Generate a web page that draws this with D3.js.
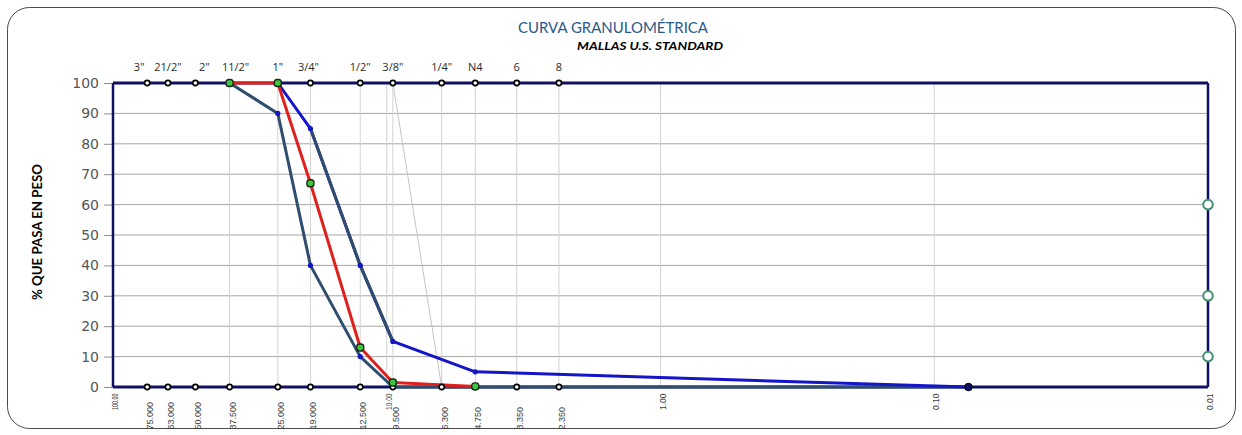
<!DOCTYPE html>
<html>
<head>
<meta charset="utf-8">
<script src="https://cdn.jsdelivr.net/npm/d3@7"></script>
<style>
  html, body { margin: 0; padding: 0; background: #ffffff; }
  svg { display: block; }
</style>
</head>
<body>
<svg id="chart" width="1242" height="435"></svg>
<script>
// Sieve openings (mm), their U.S. Standard names and printed opening labels
const sieveSizes  = [75, 63, 50, 37.5, 25, 19, 12.5, 9.5, 6.3, 4.75, 3.35, 2.35];
const sieveNames  = ['3"', '21/2"', '2"', '11/2"', '1"', '3/4"', '1/2"', '3/8"', '1/4"', 'N4', '6', '8'];
const sieveLabels = ['75.000', '63.000', '50.000', '37.500', '25.000', '19.000', '12.500', '9.500', '6.300', '4.750', '3.350', '2.350'];

// Decade gridlines of the log axis
const decadeTicks  = [100, 10, 1, 0.1, 0.01];
const decadeLabels = ['100.00', '10.00', '1.00', '0.10', '0.01'];

// Percent-passing axis ticks
const yTicks = [0, 10, 20, 30, 40, 50, 60, 70, 80, 90, 100];

// Sample gradation (% passing)
const sampleSizes  = [37.5, 25, 19, 12.5, 9.5, 4.75];
const sampleValues = [100, 100, 67, 13, 1.5, 0.2];

// Specification band: lower limit
const lowerSizes  = [37.5, 25, 19, 12.5, 9.5, 0.075];
const lowerValues = [100, 90, 40, 10, 0, 0];

// Specification band: upper limit
const upperSizes  = [25, 19, 12.5, 9.5, 4.75, 0.075];
const upperValues = [100, 85, 40, 15, 5, 0];

// Thin guide line
const guideSizes  = [9.5, 6.3];
const guideValues = [100, 0];

// Markers on the right edge (0.01 mm)
const edgeSizes  = [0.01, 0.01, 0.01];
const edgeValues = [60, 30, 10];

// End point at the #200 opening
const finesSizes  = [0.075];
const finesValues = [0];

// Horizontal nudges (px) for the crowded sieve names
const nameNudge = [-8, 0, 9, 6, 0, -2, 0, 0, 0, 0, 0, 0];

const svg = d3.select('#chart');
const plotL = 113, plotR = 1208, plotT = 83, plotB = 387;

const x = d3.scaleLog().domain([100, 0.01]).range([plotL, plotR]);
const y = d3.scaleLinear().domain([0, 100]).range([plotB, plotT]);

const NAVY = '#101064', SLATE = '#2f4e6e', BLUE = '#1414c8', RED = '#e0201c';

const zip = (s, v) => s.map((d, i) => [d, v[i]]);
const line = d3.line().x(d => x(d[0])).y(d => y(d[1]));

// Outer chart frame
svg.append('rect')
  .attr('x', 7.5).attr('y', 7.5).attr('width', 1228).attr('height', 421)
  .attr('rx', 22).attr('ry', 22)
  .attr('fill', '#fff').attr('stroke', '#4a4a4a').attr('stroke-width', 1);

// Horizontal gridlines
svg.append('g').selectAll('line').data(yTicks.filter(v => v > 0 && v < 100)).join('line')
  .attr('x1', plotL).attr('x2', plotR)
  .attr('y1', d => y(d)).attr('y2', d => y(d))
  .attr('stroke', '#a6a6a6').attr('stroke-width', 1);

// Vertical gridlines at decades and sieve openings (finer than 50 mm)
const vLines = decadeTicks.slice(1, 4).concat(sieveSizes.filter(s => s < 50));
svg.append('g').selectAll('line').data(vLines).join('line')
  .attr('x1', d => x(d)).attr('x2', d => x(d))
  .attr('y1', plotT).attr('y2', plotB)
  .attr('stroke', '#d2d2d2').attr('stroke-width', 1);

// Y axis ticks and labels
const yAxis = svg.append('g')
  .attr('transform', `translate(${plotL},0)`)
  .call(d3.axisLeft(y).tickValues(yTicks).tickSize(9).tickPadding(5).tickFormat(d3.format('d')));
yAxis.select('.domain').remove();
yAxis.selectAll('.tick line').attr('stroke', '#8c8c8c');
yAxis.selectAll('.tick text')
  .attr('fill', '#555')
  .style('font-family', '"DejaVu Sans", sans-serif')
  .style('font-size', '14px');

// Plot border
svg.append('g').selectAll('line').data([
  [plotL, plotT, plotR, plotT, 3], [plotL, plotB, plotR, plotB, 3],
  [plotL, plotT, plotL, plotB, 2.5], [plotR, plotT, plotR, plotB, 2.5]
]).join('line')
  .attr('x1', d => d[0]).attr('y1', d => d[1]).attr('x2', d => d[2]).attr('y2', d => d[3])
  .attr('stroke', NAVY).attr('stroke-width', d => d[4]);

// Guide line
svg.append('path').datum(zip(guideSizes, guideValues)).attr('d', line)
  .attr('fill', 'none').attr('stroke', '#c4c4c4').attr('stroke-width', 1);

// Lower limit
svg.append('path').datum(zip(lowerSizes, lowerValues)).attr('d', line)
  .attr('fill', 'none').attr('stroke', SLATE).attr('stroke-width', 3).attr('stroke-linejoin', 'round');

// Upper limit (blue), with its middle stretch in slate
const upper = zip(upperSizes, upperValues);
svg.append('path').datum(upper).attr('d', line)
  .attr('fill', 'none').attr('stroke', BLUE).attr('stroke-width', 3).attr('stroke-linejoin', 'round');
svg.append('path').datum(upper.slice(1, 4)).attr('d', line)
  .attr('fill', 'none').attr('stroke', SLATE).attr('stroke-width', 3).attr('stroke-linejoin', 'round');

// Sample curve
svg.append('path').datum(zip(sampleSizes, sampleValues)).attr('d', line)
  .attr('fill', 'none').attr('stroke', RED).attr('stroke-width', 3).attr('stroke-linejoin', 'round');

// Sieve markers on the 100 % and 0 % lines
['upper', 'lower'].forEach(edge => {
  svg.append('g').selectAll('circle').data(sieveSizes).join('circle')
    .attr('cx', d => x(d)).attr('cy', edge === 'upper' ? y(100) : y(0)).attr('r', 2.6)
    .attr('fill', '#fff').attr('stroke', '#000').attr('stroke-width', 1.6);
});

// Vertex markers of the specification limits
const limitPts = zip(lowerSizes, lowerValues).slice(1, 4).concat(upper.slice(1, 5));
svg.append('g').selectAll('circle').data(limitPts).join('circle')
  .attr('cx', d => x(d[0])).attr('cy', d => y(d[1])).attr('r', 2.6)
  .attr('fill', BLUE);

// Sample markers
svg.append('g').selectAll('rect').data(zip(sampleSizes, sampleValues)).join('rect')
  .attr('x', d => x(d[0]) - 3.5).attr('y', d => y(d[1]) - 3.5)
  .attr('width', 7).attr('height', 7).attr('rx', 2.8)
  .attr('fill', '#3ec83e').attr('stroke', '#1a2a1a').attr('stroke-width', 1.4);

// Fines end point
svg.append('g').selectAll('circle').data(zip(finesSizes, finesValues)).join('circle')
  .attr('cx', d => x(d[0])).attr('cy', d => y(d[1])).attr('r', 3.8)
  .attr('fill', '#101060').attr('stroke', '#000').attr('stroke-width', 1);

// Right edge markers
svg.append('g').selectAll('circle').data(zip(edgeSizes, edgeValues)).join('circle')
  .attr('cx', d => x(d[0])).attr('cy', d => y(d[1])).attr('r', 4.8)
  .attr('fill', '#fff').attr('stroke', '#3f8f6f').attr('stroke-width', 2);

// Sieve names above the plot
svg.append('g').selectAll('text').data(sieveSizes).join('text')
  .attr('x', (d, i) => x(d) + nameNudge[i]).attr('y', 70.5)
  .attr('text-anchor', 'middle')
  .attr('fill', '#2a2a2a')
  .style('font-family', '"Open Sans", sans-serif').style('font-size', '11px')
  .text((d, i) => sieveNames[i]);

// Opening labels below the plot (rotated)
svg.append('g').selectAll('text').data(sieveSizes).join('text')
  .attr('transform', d => `translate(${x(d) + 6},429.5) rotate(-90)`)
  .attr('text-anchor', 'start')
  .attr('fill', '#3a3a3a')
  .style('font-family', '"Liberation Sans", sans-serif').style('font-size', '9px')
  .text((d, i) => sieveLabels[i]);

svg.append('g').selectAll('text').data(decadeTicks).join('text')
  .attr('transform', d => `translate(${x(d) + 5},393.5) rotate(-90)`)
  .attr('text-anchor', 'end')
  .attr('fill', '#3a3a3a')
  .style('font-family', '"Liberation Sans", sans-serif').style('font-size', '9px')
  .text((d, i) => decadeLabels[i])
  .each(function () {
    if (this.getComputedTextLength() > 17) {
      d3.select(this).attr('textLength', 16.5).attr('lengthAdjust', 'spacingAndGlyphs');
    }
  });

// Titles
svg.append('text')
  .attr('x', 613).attr('y', 32.5).attr('text-anchor', 'middle')
  .attr('fill', '#2a5a8a')
  .attr('textLength', 190).attr('lengthAdjust', 'spacingAndGlyphs')
  .style('font-family', 'Lato, sans-serif').style('font-size', '15px')
  .text('CURVA GRANULOMÉTRICA');

svg.append('text')
  .attr('x', 650).attr('y', 50).attr('text-anchor', 'middle')
  .attr('fill', '#000')
  .attr('textLength', 146).attr('lengthAdjust', 'spacingAndGlyphs')
  .style('font-family', 'Lato, sans-serif').style('font-size', '12px')
  .style('font-weight', 'bold').style('font-style', 'italic')
  .text('MALLAS U.S. STANDARD');

svg.append('text')
  .attr('transform', 'translate(41.5,232) rotate(-90)')
  .attr('text-anchor', 'middle')
  .attr('fill', '#000')
  .attr('textLength', 136).attr('lengthAdjust', 'spacingAndGlyphs')
  .style('font-family', 'Lato, sans-serif').style('font-size', '14px').style('font-weight', 'bold')
  .text('% QUE PASA EN PESO');
</script>
</body>
</html>
